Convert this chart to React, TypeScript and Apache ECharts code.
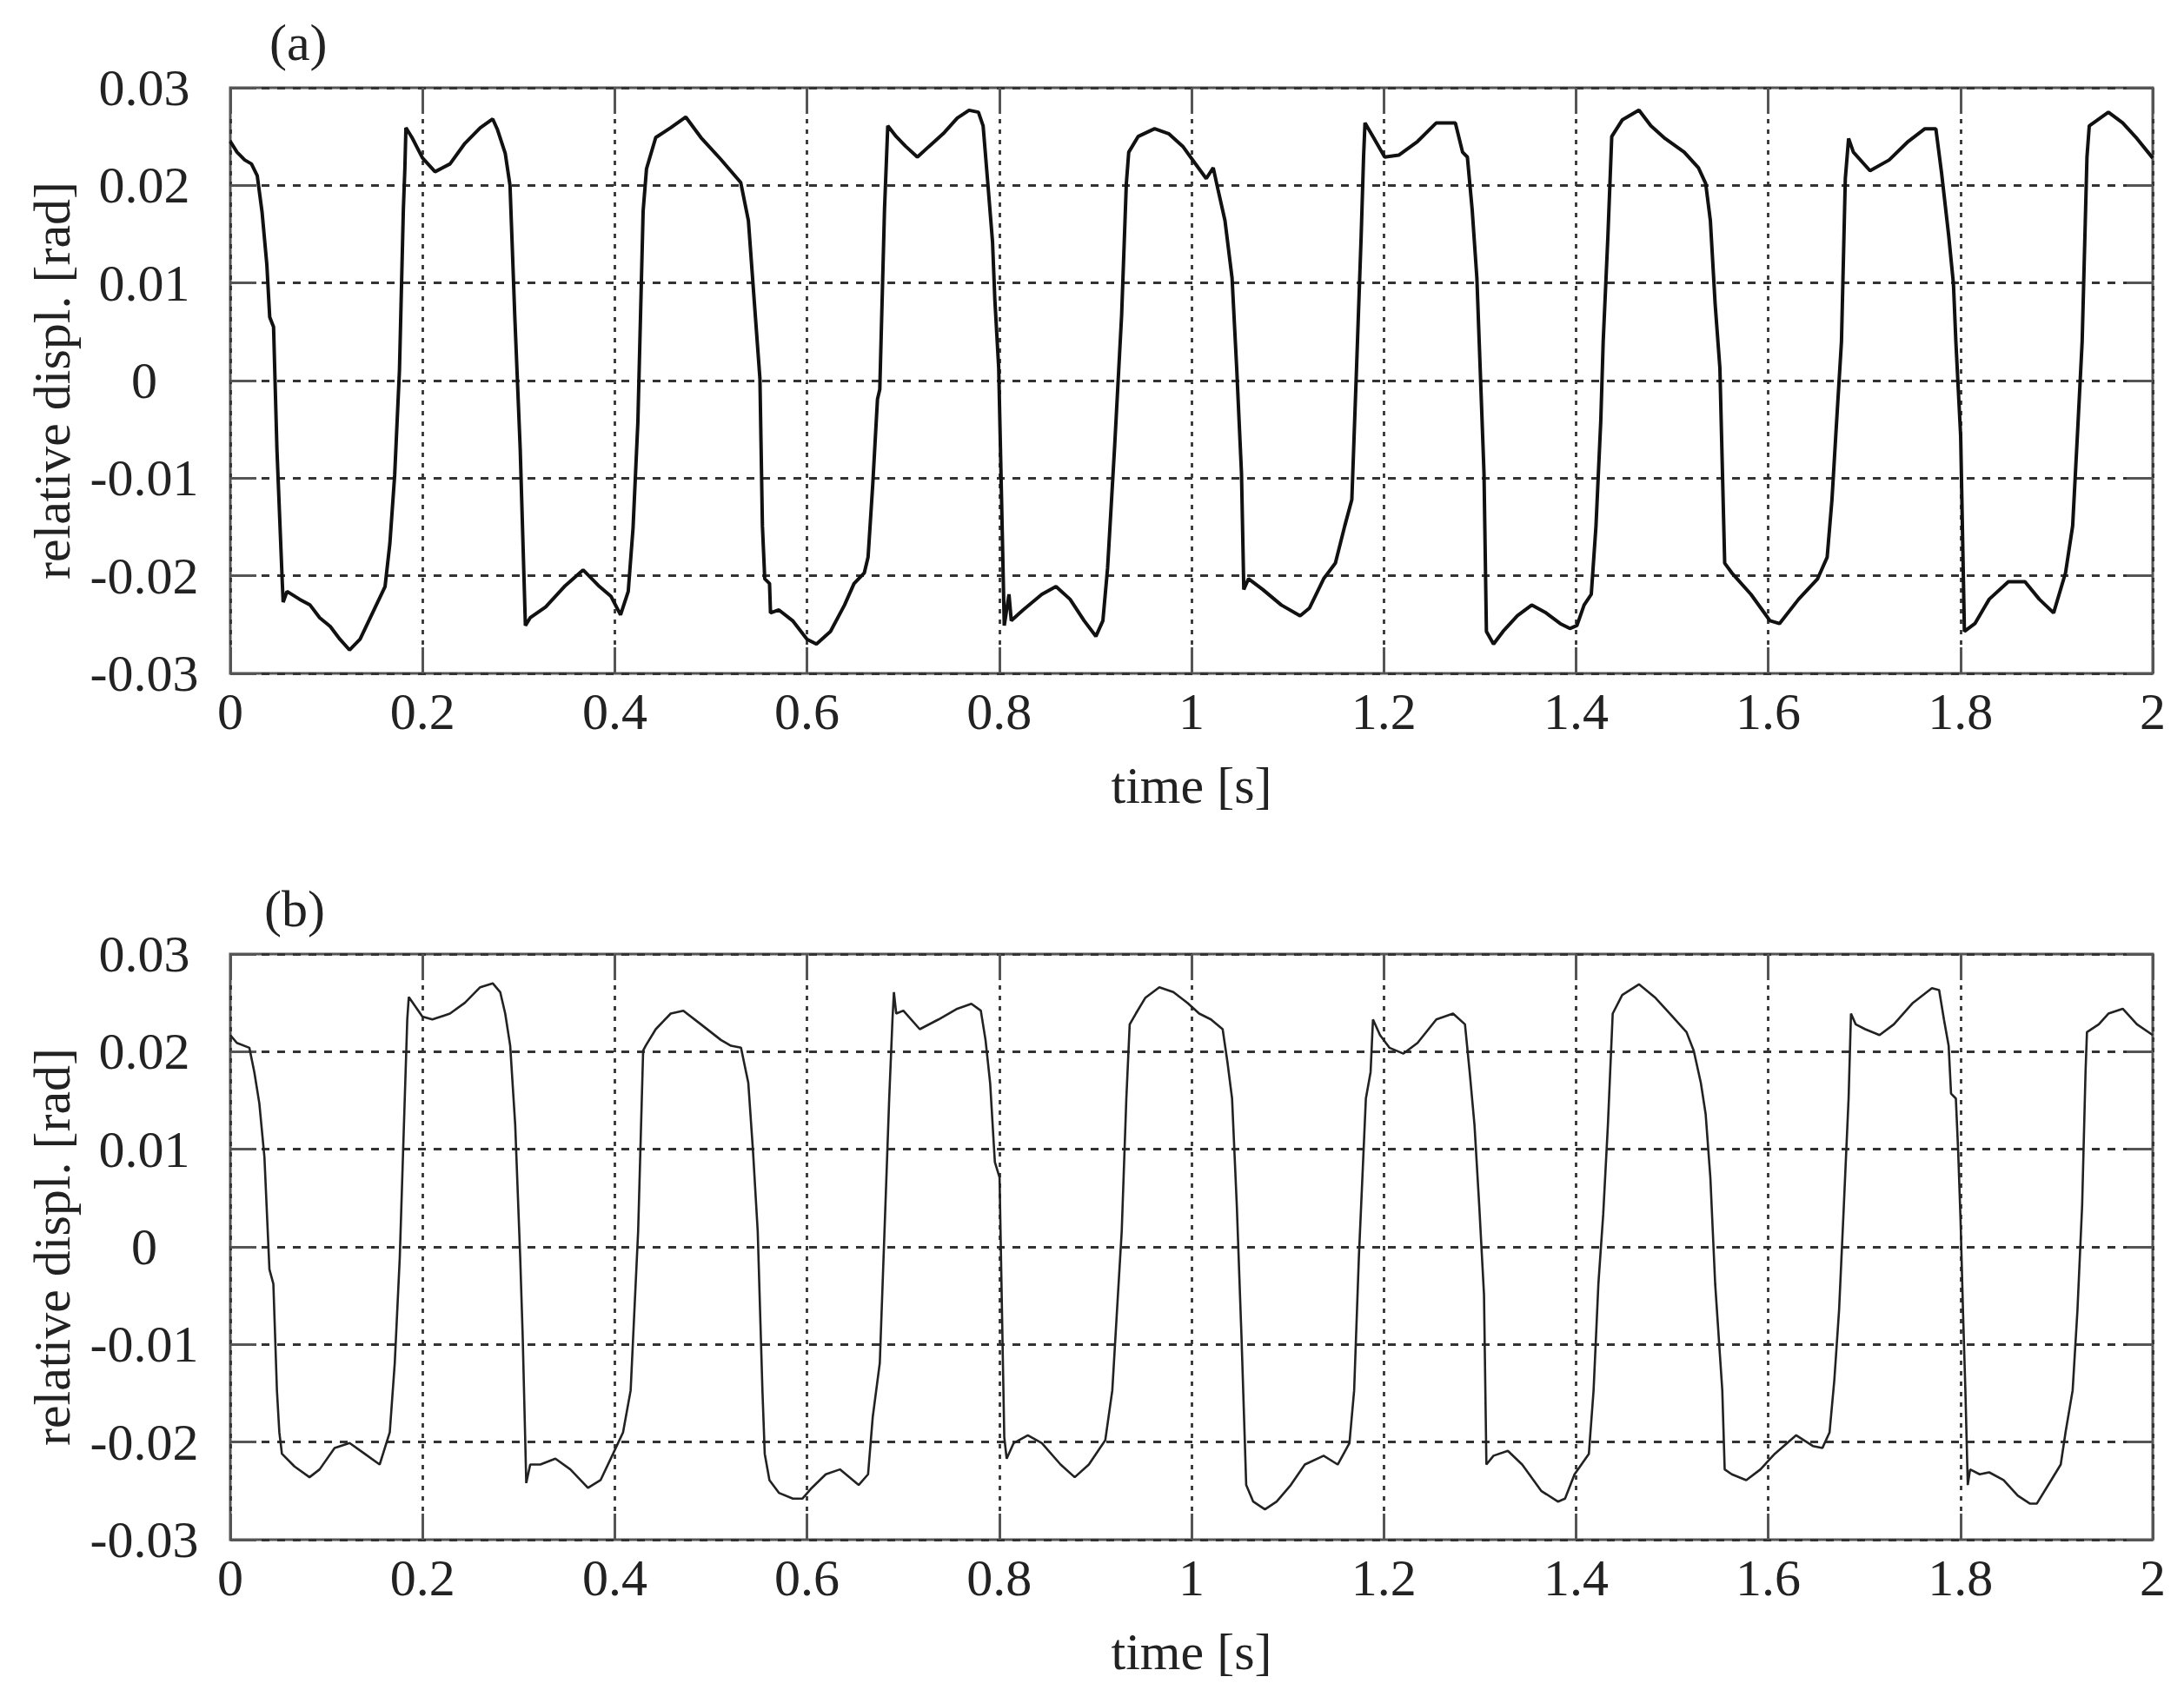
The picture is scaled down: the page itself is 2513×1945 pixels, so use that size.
import { useEffect, useRef } from "react";
import * as echarts from "echarts";

// x ticks (s) and y ticks (rad)
const xTicks = [0, 0.2, 0.4, 0.6, 0.8, 1, 1.2, 1.4, 1.6, 1.8, 2];
const yTicks = [-0.03, -0.02, -0.01, 0, 0.01, 0.02, 0.03];

const panelTags = ["(a)", "(b)"];
const xName = "time [s]";
const yName = "relative displ. [rad]";

// panel (a): [time, relative displacement]
const traceA: [number, number][] = [
  [0, 0.0245], [0.007, 0.0234], [0.015, 0.0226], [0.022, 0.0222], [0.028, 0.021], [0.033, 0.0173],
  [0.038, 0.0119], [0.041, 0.0065], [0.045, 0.0055], [0.0485, -0.007], [0.054, -0.0205], [0.055, -0.0227],
  [0.059, -0.0216], [0.072, -0.0224], [0.083, -0.023], [0.093, -0.0243], [0.104, -0.0252], [0.114, -0.0265],
  [0.124, -0.0276], [0.135, -0.0265], [0.148, -0.0238], [0.161, -0.0211], [0.166, -0.0167], [0.171, -0.0097],
  [0.176, 0.0011], [0.18, 0.0174], [0.1816, 0.0217], [0.1827, 0.0259], [0.189, 0.0249], [0.2, 0.0228],
  [0.213, 0.0214], [0.2286, 0.0222], [0.244, 0.0243], [0.26, 0.0259], [0.273, 0.0268], [0.278, 0.0257],
  [0.286, 0.0233], [0.291, 0.02], [0.296, 0.0065], [0.3016, -0.007], [0.307, -0.0251], [0.312, -0.0243],
  [0.328, -0.0232], [0.3486, -0.021], [0.367, -0.0194], [0.383, -0.021], [0.396, -0.0221], [0.406, -0.024],
  [0.414, -0.0216], [0.419, -0.0151], [0.424, -0.0043], [0.4295, 0.0174], [0.433, 0.0217], [0.4426, 0.0249],
  [0.458, 0.0259], [0.4739, 0.027], [0.4896, 0.0249], [0.51, 0.0227], [0.531, 0.0203], [0.539, 0.0164],
  [0.5438, 0.0099], [0.551, 0.0002], [0.5536, -0.0149], [0.556, -0.0203], [0.561, -0.0208], [0.562, -0.0238],
  [0.5707, -0.0235], [0.585, -0.0246], [0.6, -0.0265], [0.6098, -0.027], [0.6244, -0.0257], [0.639, -0.023],
  [0.6489, -0.0208], [0.6596, -0.0197], [0.6635, -0.0181], [0.6684, -0.0106], [0.6733, -0.0019], [0.6757, -0.0009],
  [0.6806, 0.0175], [0.684, 0.0261], [0.6928, 0.025], [0.7026, 0.024], [0.7148, 0.0229], [0.727, 0.024],
  [0.7417, 0.0253], [0.7563, 0.0269], [0.7686, 0.0277], [0.7783, 0.0275], [0.7832, 0.0261], [0.7881, 0.0202],
  [0.793, 0.0142], [0.7954, 0.0083], [0.7994, 0.0013], [0.8018, -0.0095], [0.8052, -0.0251], [0.8101, -0.0219],
  [0.8125, -0.0246], [0.8248, -0.0235], [0.8443, -0.0219], [0.859, -0.0211], [0.8736, -0.0224], [0.8883, -0.0246],
  [0.9005, -0.0262], [0.9078, -0.0246], [0.9127, -0.0192], [0.92, -0.0068], [0.9273, 0.0067], [0.9322, 0.0202],
  [0.9347, 0.0234], [0.9444, 0.025], [0.9616, 0.0258], [0.9762, 0.0253], [0.9909, 0.024], [1.0034, 0.0223],
  [1.0153, 0.0207], [1.0226, 0.0218], [1.0275, 0.0196], [1.0348, 0.0164], [1.0422, 0.0105], [1.047, 0.0013],
  [1.052, -0.0095], [1.0544, -0.0214], [1.0593, -0.0203], [1.074, -0.0214], [1.0935, -0.023], [1.113, -0.0241],
  [1.1228, -0.0233], [1.1375, -0.0203], [1.1497, -0.0187], [1.1594, -0.0149], [1.1668, -0.0122], [1.1717, 0.0013],
  [1.1765, 0.0148], [1.179, 0.0229], [1.1805, 0.0264], [1.1888, 0.025], [1.201, 0.0229], [1.2156, 0.0231],
  [1.2352, 0.0245], [1.2547, 0.0264], [1.2745, 0.0264], [1.282, 0.0234], [1.287, 0.0229], [1.292, 0.0175],
  [1.2969, 0.0105], [1.2993, 0.004], [1.3043, -0.0095], [1.3068, -0.0257], [1.3142, -0.027], [1.3241, -0.0257],
  [1.339, -0.0241], [1.3539, -0.023], [1.3688, -0.0238], [1.3836, -0.0249], [1.3936, -0.0254], [1.401, -0.0251],
  [1.4084, -0.023], [1.4159, -0.0219], [1.4208, -0.0149], [1.4258, -0.0041], [1.4283, 0.004], [1.4332, 0.0148],
  [1.4372, 0.025], [1.4481, 0.0267], [1.4655, 0.0277], [1.4779, 0.0261], [1.4927, 0.0248], [1.5126, 0.0234],
  [1.5274, 0.0218], [1.5349, 0.0202], [1.5398, 0.0164], [1.5448, 0.0078], [1.5497, 0.0013], [1.5547, -0.0187],
  [1.5621, -0.0197], [1.582, -0.0219], [1.6018, -0.0246], [1.6117, -0.0249], [1.6316, -0.0224], [1.6514, -0.0203],
  [1.6613, -0.0181], [1.6663, -0.0122], [1.6712, -0.0041], [1.6762, 0.004], [1.6802, 0.0207], [1.6836, 0.0248],
  [1.6886, 0.0234], [1.7059, 0.0215], [1.7258, 0.0226], [1.7456, 0.0245], [1.763, 0.0258], [1.7744, 0.0258],
  [1.7803, 0.0213], [1.7878, 0.0148], [1.7927, 0.0099], [1.7952, 0.004], [1.8002, -0.0057], [1.8041, -0.0257],
  [1.815, -0.0249], [1.8299, -0.0224], [1.8498, -0.0206], [1.8671, -0.0206], [1.882, -0.0224], [1.8969, -0.0238],
  [1.9093, -0.0197], [1.9167, -0.0149], [1.9216, -0.0057], [1.9266, 0.004], [1.9316, 0.0229], [1.934, 0.0261],
  [1.9539, 0.0275], [1.9687, 0.0264], [1.9836, 0.0248], [2, 0.0228],
];

// panel (b)
const traceB: [number, number][] = [
  [0, 0.0217], [0.0068, 0.0209], [0.0198, 0.0204], [0.025, 0.0179], [0.0302, 0.0147], [0.0355, 0.0092],
  [0.0407, -0.0023], [0.0448, -0.0038], [0.0485, -0.0147], [0.051, -0.019], [0.0537, -0.0212], [0.0668, -0.0225],
  [0.0824, -0.0236], [0.0929, -0.0228], [0.1085, -0.0206], [0.1241, -0.0201], [0.1398, -0.0212], [0.1554, -0.0223],
  [0.1659, -0.019], [0.1711, -0.0119], [0.1763, -0.0011], [0.1815, 0.0152], [0.1841, 0.0233], [0.1857, 0.0256],
  [0.192, 0.0247], [0.1998, 0.0236], [0.2102, 0.0233], [0.2285, 0.0239], [0.244, 0.025], [0.26, 0.0266],
  [0.273, 0.027], [0.2808, 0.0261], [0.286, 0.0239], [0.2912, 0.0206], [0.2964, 0.0125], [0.3016, -0.0011],
  [0.3042, -0.0092], [0.3069, -0.0201], [0.3079, -0.0242], [0.312, -0.0223], [0.3225, -0.0223], [0.3382, -0.0217],
  [0.3538, -0.0228], [0.3721, -0.0247], [0.3852, -0.0239], [0.3982, -0.0212], [0.4086, -0.019], [0.4165, -0.0147],
  [0.4243, 0.0016], [0.4295, 0.0201], [0.4321, 0.0206], [0.4426, 0.0223], [0.4582, 0.0239], [0.4713, 0.0242],
  [0.4896, 0.0228], [0.5104, 0.0212], [0.5209, 0.0206], [0.5313, 0.0204], [0.5389, 0.0168], [0.5438, 0.0098],
  [0.5487, 0.0016], [0.5536, -0.0147], [0.556, -0.0212], [0.5609, -0.0239], [0.5707, -0.0252], [0.5853, -0.0258],
  [0.5951, -0.0258], [0.6049, -0.0247], [0.6195, -0.0233], [0.6342, -0.0228], [0.6537, -0.0244], [0.6635, -0.0233],
  [0.6684, -0.0174], [0.6757, -0.0119], [0.6806, 0.0016], [0.6855, 0.0152], [0.6889, 0.0233], [0.6904, 0.0261],
  [0.6928, 0.0239], [0.7002, 0.0242], [0.7173, 0.0223], [0.7368, 0.0233], [0.7563, 0.0244], [0.771, 0.0249],
  [0.7808, 0.0242], [0.7857, 0.0212], [0.7905, 0.0168], [0.7954, 0.0087], [0.8003, 0.0071], [0.8028, -0.0065],
  [0.8052, -0.0195], [0.8077, -0.0217], [0.815, -0.0201], [0.8297, -0.0193], [0.8443, -0.0201], [0.8638, -0.0223],
  [0.8785, -0.0236], [0.8932, -0.0223], [0.9103, -0.0198], [0.9176, -0.0147], [0.9225, -0.0065], [0.9274, 0.0016],
  [0.9322, 0.0152], [0.9357, 0.0228], [0.9421, 0.0239], [0.9518, 0.0255], [0.9665, 0.0266], [0.9811, 0.0261],
  [0.9958, 0.025], [1.008, 0.0239], [1.0202, 0.0233], [1.0324, 0.0223], [1.0373, 0.019], [1.0422, 0.0152],
  [1.0471, 0.0043], [1.052, -0.0092], [1.0569, -0.0244], [1.0642, -0.0261], [1.0764, -0.0269], [1.0886, -0.0261],
  [1.1033, -0.0244], [1.1179, -0.0223], [1.1375, -0.0214], [1.1521, -0.0223], [1.1643, -0.0201], [1.1692, -0.0147],
  [1.1741, -0.0011], [1.1814, 0.0152], [1.1863, 0.0179], [1.1888, 0.0233], [1.1961, 0.0217], [1.2059, 0.0204],
  [1.2205, 0.0198], [1.2352, 0.0209], [1.2547, 0.0233], [1.2721, 0.0239], [1.2845, 0.0228], [1.2894, 0.0179],
  [1.2944, 0.0125], [1.2993, 0.0043], [1.3043, -0.0049], [1.3068, -0.0223], [1.3142, -0.0214], [1.3291, -0.0209],
  [1.344, -0.0223], [1.3638, -0.025], [1.3812, -0.0261], [1.3886, -0.0258], [1.3985, -0.0233], [1.4134, -0.0212],
  [1.4183, -0.0147], [1.4233, -0.0038], [1.4283, 0.0033], [1.4332, 0.0125], [1.4382, 0.0239], [1.4481, 0.0258],
  [1.4655, 0.0269], [1.4828, 0.0255], [1.4977, 0.0239], [1.515, 0.022], [1.5225, 0.0201], [1.5299, 0.0168],
  [1.5349, 0.0136], [1.5398, 0.0071], [1.5448, -0.0038], [1.5522, -0.0147], [1.5547, -0.0228], [1.5621, -0.0233],
  [1.5771, -0.0239], [1.5919, -0.0228], [1.6068, -0.0212], [1.6291, -0.0193], [1.6464, -0.0204], [1.6564, -0.0206],
  [1.6638, -0.019], [1.6688, -0.0136], [1.6737, -0.0065], [1.6787, 0.0043], [1.6836, 0.0152], [1.6861, 0.0239],
  [1.691, 0.0228], [1.7009, 0.0223], [1.7158, 0.0217], [1.7307, 0.0228], [1.7505, 0.025], [1.7703, 0.0265],
  [1.7778, 0.0263], [1.7828, 0.0233], [1.7877, 0.0206], [1.7902, 0.0157], [1.7952, 0.0152], [1.7976, 0.0098],
  [1.8001, 0.0027], [1.8026, -0.0065], [1.8051, -0.0147], [1.8076, -0.0244], [1.81, -0.0228], [1.82, -0.0233],
  [1.8299, -0.0231], [1.8448, -0.0239], [1.8597, -0.0255], [1.8721, -0.0263], [1.8795, -0.0263], [1.8944, -0.0239],
  [1.9043, -0.0223], [1.9093, -0.019], [1.9167, -0.0147], [1.9217, -0.0065], [1.9266, 0.0043], [1.9301, 0.0179],
  [1.9316, 0.022], [1.9439, 0.0228], [1.9539, 0.0239], [1.9688, 0.0244], [1.9836, 0.0228], [2, 0.0217],
];

const FONT = "'Liberation Serif', 'DejaVu Serif', serif";
const INK = "#222";
const FRAME = "#555";

const gridTops = [101, 1098];
const tick = { show: true, inside: true, length: 30, lineStyle: { color: FRAME, width: 3 } };
const noLine = { show: false, onZero: false };

function xAxes(gi: number) {
  const base = {
    type: "value",
    gridIndex: gi,
    min: xTicks[0],
    max: xTicks[xTicks.length - 1],
    interval: xTicks[1] - xTicks[0],
    axisLine: noLine,
    axisTick: tick,
  };
  return [
    {
      ...base,
      position: "bottom",
      name: xName,
      nameLocation: "middle",
      nameGap: 99,
      nameTextStyle: { fontSize: 60, color: INK, fontFamily: FONT },
      axisLabel: {
        fontSize: 60,
        color: INK,
        fontFamily: FONT,
        margin: 14,
        formatter: (v: number) => String(Number(v.toFixed(1))),
      },
      splitLine: { show: true, lineStyle: { color: "#333", width: 2.8, type: [5, 7] } },
    },
    { ...base, position: "top", axisLabel: { show: false }, splitLine: { show: false } },
  ];
}

function yAxes(gi: number) {
  const base = {
    type: "value",
    gridIndex: gi,
    min: yTicks[0],
    max: yTicks[yTicks.length - 1],
    interval: 0.01,
    axisLine: noLine,
    axisTick: tick,
  };
  return [
    {
      ...base,
      position: "left",
      name: yName,
      nameLocation: "middle",
      nameGap: 175,
      nameTextStyle: { fontSize: 60, color: INK, fontFamily: FONT },
      axisLabel: {
        fontSize: 60,
        color: INK,
        fontFamily: FONT,
        align: "center",
        margin: 99,
        formatter: (v: number) => String(Number(v.toFixed(2))),
      },
      splitLine: { show: true, lineStyle: { color: "#333", width: 2.8, type: [9, 9] } },
    },
    { ...base, position: "right", axisLabel: { show: false }, splitLine: { show: false } },
  ];
}

export default function App() {
  const ref = useRef<HTMLDivElement>(null);

  useEffect(() => {
    const el = ref.current;
    if (!el) return;
    const chart = echarts.init(el, undefined, { renderer: "svg" });
    chart.setOption({
      animation: false,
      backgroundColor: "#fff",
      textStyle: { fontFamily: FONT },
      grid: gridTops.map((top) => ({
        left: 265,
        top,
        width: 2212,
        height: 674,
        show: true,
        borderColor: FRAME,
        borderWidth: 3,
        backgroundColor: "transparent",
      })),
      xAxis: [...xAxes(0), ...xAxes(1)],
      yAxis: [...yAxes(0), ...yAxes(1)],
      graphic: panelTags.map((t, i) => ({
        type: "text",
        left: 310 - (i ? 6 : 0),
        top: gridTops[i] - 82,
        style: { text: t, fontSize: 60, fill: INK, fontFamily: FONT },
      })),
      series: [
        {
          type: "line",
          xAxisIndex: 0,
          yAxisIndex: 0,
          data: traceA,
          showSymbol: false,
          lineStyle: { color: "#111", width: 4 },
        },
        {
          type: "line",
          xAxisIndex: 2,
          yAxisIndex: 2,
          data: traceB,
          showSymbol: false,
          lineStyle: { color: "#222", width: 2.6 },
        },
      ],
    });
    return () => chart.dispose();
  }, []);

  return (
    <div
      ref={ref}
      style={{ position: "absolute", left: 0, top: 0, width: 2513, height: 1945, background: "#fff" }}
    />
  );
}
